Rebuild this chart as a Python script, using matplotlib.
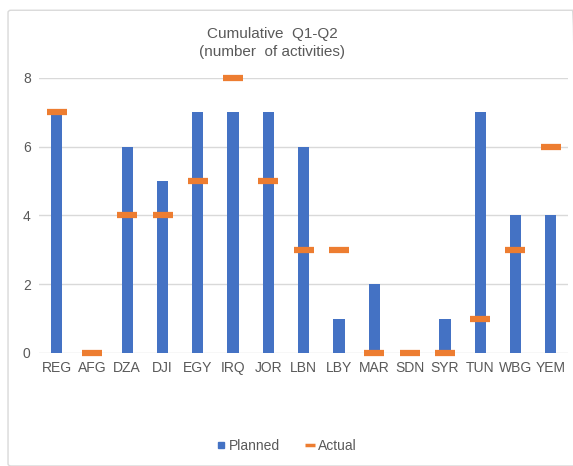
import numpy as np
import matplotlib.pyplot as plt
from matplotlib.patches import FancyBboxPatch
from matplotlib.lines import Line2D

# データ
countries = ['REG', 'AFG', 'DZA', 'DJI', 'EGY', 'IRQ', 'JOR', 'LBN',
             'LBY', 'MAR', 'SDN', 'SYR', 'TUN', 'WBG', 'YEM']
planned = [7, 0, 6, 5, 7, 7, 7, 6, 1, 2, 0, 1, 7, 4, 4]
actual = [7, 0, 4, 4, 5, 8, 5, 3, 3, 0, 0, 0, 1, 3, 6]

plt.rcParams['font.family'] = ['Liberation Sans', 'DejaVu Sans']
grey = '#595959'
blue = '#4472C4'
orange = '#ED7D31'

fig = plt.figure(figsize=(5.73, 4.66), dpi=100)
ax = fig.add_axes([0.068, 0.2425, 0.924, 0.5905])

# 外枠
fig.patches.append(FancyBboxPatch((0.014, 0.0), 0.99, 0.978, transform=fig.transFigure,
                                  boxstyle='round,pad=0,rounding_size=0.005',
                                  fc='none', ec='#D9D9D9', lw=1))

x = np.arange(len(countries))
ax.bar(x, planned, width=0.32, color=blue, zorder=2)
ax.plot(x, actual, linestyle='none', marker='_', ms=14, mew=4.5,
        color=orange, zorder=3, clip_on=False)

ax.set_xlim(-0.5, len(countries) - 0.5)
ax.set_ylim(0, 8)
ax.set_yticks([0, 2, 4, 6, 8])
ax.set_xticks(x)
ax.set_xticklabels(countries)
ax.tick_params(length=0, labelsize=10, labelcolor=grey, pad=6)
ax.grid(axis='y', color='#D9D9D9', lw=1, zorder=0)
ax.set_axisbelow(True)
for s in ax.spines.values():
    s.set_visible(False)

fig.text(0.475, 0.908, 'Cumulative  Q1-Q2\n(number  of activities)', ha='center',
         va='center', fontsize=11, color=grey, linespacing=1.3)

handles = [Line2D([], [], linestyle='none', marker='s', ms=5, color=blue),
           Line2D([], [], linestyle='none', marker='_', ms=7, mew=2.5, color=orange)]
ax.legend(handles, ['Planned', 'Actual'], loc='center', bbox_to_anchor=(0.468, -0.338),
          ncol=2, frameon=False, fontsize=10, labelcolor=grey, handlelength=0.6,
          handletextpad=0.3, columnspacing=1.8)

plt.savefig('out.png', dpi=100)
